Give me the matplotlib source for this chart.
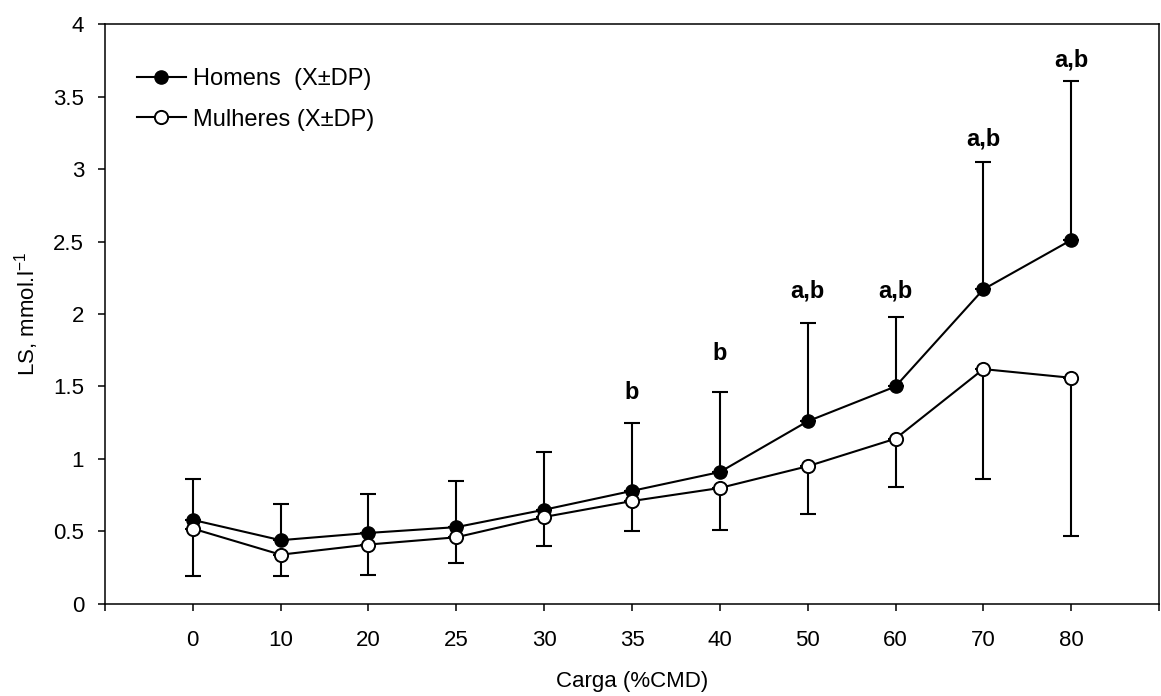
import matplotlib
matplotlib.use("Agg")
import matplotlib.pyplot as plt
from matplotlib.lines import Line2D
import numpy as np

plt.rcParams['font.family'] = ['Liberation Sans', 'DejaVu Sans']

# Load levels (%CMD) and blood lactate means / SD
cargas = ['0', '10', '20', '25', '30', '35', '40', '50', '60', '70', '80']
homens_media = [0.58, 0.44, 0.49, 0.53, 0.65, 0.78, 0.91, 1.26, 1.50, 2.17, 2.51]
homens_dp = [0.28, 0.25, 0.27, 0.32, 0.40, 0.47, 0.55, 0.68, 0.48, 0.88, 1.10]
mulheres_media = [0.52, 0.34, 0.41, 0.46, 0.60, 0.71, 0.80, 0.95, 1.14, 1.62, 1.56]
mulheres_dp = [0.33, 0.15, 0.21, 0.18, 0.20, 0.21, 0.29, 0.33, 0.33, 0.76, 1.09]

# Significance markers above the error bars
sig_idx = [5, 6, 7, 8, 9, 10]
sig_txt = ['b', 'b', 'a,b', 'a,b', 'a,b', 'a,b']
sig_y = [1.46, 1.73, 2.16, 2.16, 3.21, 3.75]

fig = plt.figure(figsize=(11.61, 6.96), dpi=100)
ax = fig.add_axes([0.0904, 0.1322, 0.9079, 0.8333])

x = np.arange(len(cargas))
lw = 1.5
ms = 9.5

# Men: upward SD bars only
ax.errorbar(x, homens_media,
            yerr=[np.zeros(len(x)), homens_dp],
            fmt='none', ecolor='black', elinewidth=lw, capsize=5.5, capthick=lw, zorder=2)
# Women: downward SD bars only
ax.errorbar(x, mulheres_media,
            yerr=[mulheres_dp, np.zeros(len(x))],
            fmt='none', ecolor='black', elinewidth=lw, capsize=5.5, capthick=lw, zorder=2)

ax.plot(x, homens_media, '-o', color='black', lw=lw, ms=ms,
        markerfacecolor='black', markeredgecolor='black', zorder=3)
ax.plot(x, mulheres_media, '-o', color='black', lw=lw, ms=ms,
        markerfacecolor='white', markeredgecolor='black', markeredgewidth=1.4, zorder=3)

for i, t, yy in zip(sig_idx, sig_txt, sig_y):
    ax.text(x[i], yy, t, ha='center', va='center', fontsize=17, fontweight='bold')

ax.set_xlim(-1, 11)
ax.set_ylim(0, 4)
ax.set_xticks(np.arange(-1, 12))
ax.set_xticklabels([''] + cargas + [''])
ax.set_yticks([0, 0.5, 1, 1.5, 2, 2.5, 3, 3.5, 4])
ax.set_yticklabels(['0', '0.5', '1', '1.5', '2', '2.5', '3', '3.5', '4'])
ax.tick_params(direction='out', length=5, width=1.1, labelsize=16, colors='black')
ax.tick_params(axis='x', pad=14)
ax.tick_params(axis='y', pad=10)

for s in ax.spines.values():
    s.set_linewidth(1.1)

ax.set_xlabel('Carga (%CMD)', fontsize=16, labelpad=14)
ax.set_ylabel(r'LS, mmol.l$^{\mathregular{-1}}$', fontsize=16, labelpad=9)

handles = [
    Line2D([], [], color='black', lw=lw, marker='o', ms=ms,
           markerfacecolor='black', markeredgecolor='black'),
    Line2D([], [], color='black', lw=lw, marker='o', ms=ms,
           markerfacecolor='white', markeredgecolor='black', markeredgewidth=1.4),
]
ax.legend(handles, ['Homens  (X±DP)', 'Mulheres (X±DP)'],
          loc='upper left', bbox_to_anchor=(0.021, 0.94), frameon=False,
          fontsize=17, handlelength=2.1, handletextpad=0.3, labelspacing=0.78,
          borderaxespad=0)

fig.savefig('out.png', dpi=100)
